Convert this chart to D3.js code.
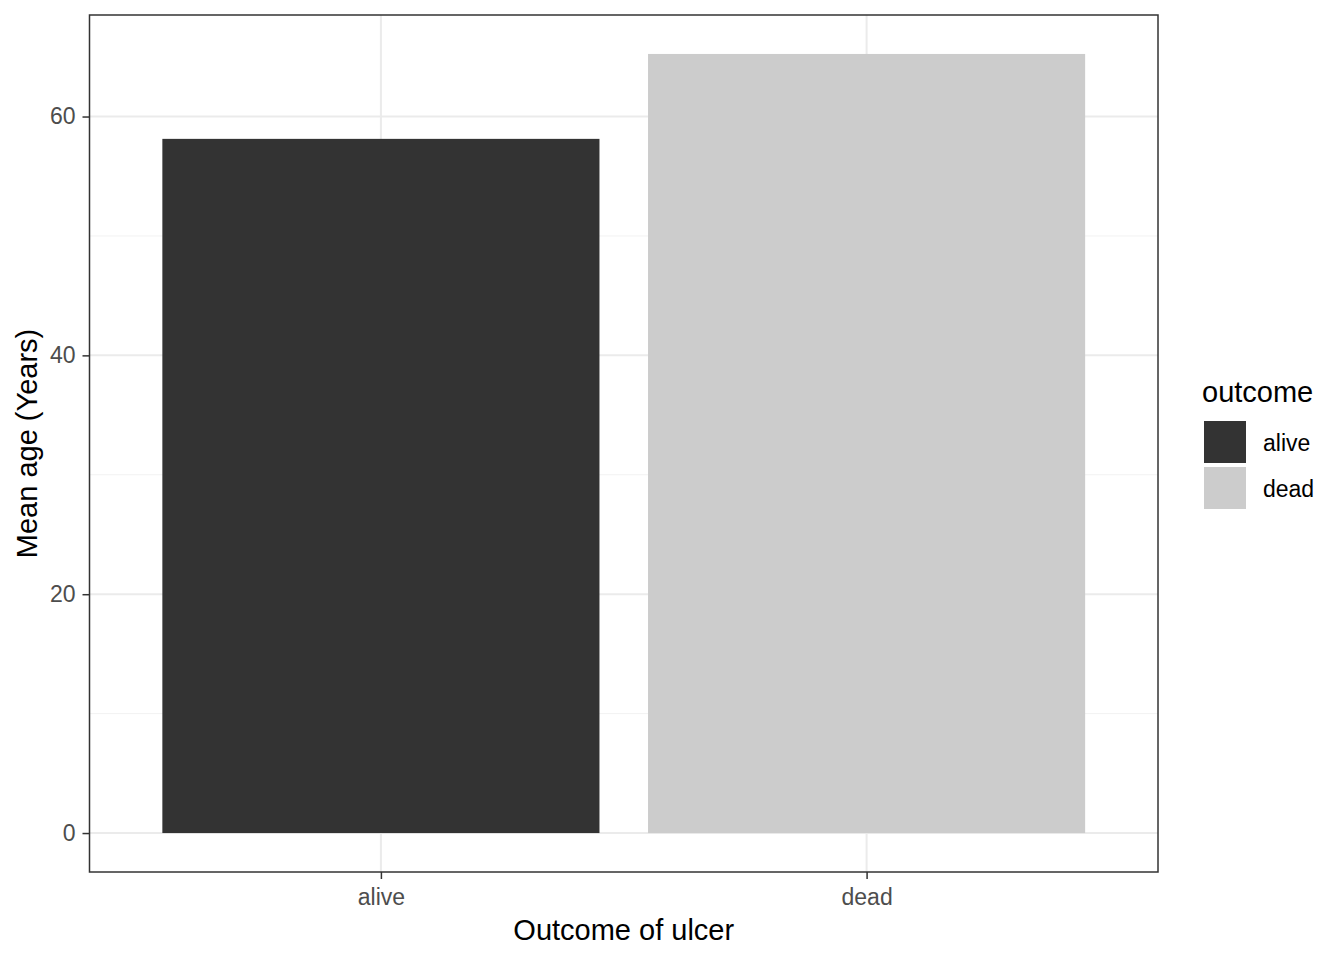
<!DOCTYPE html>
<html>
<head>
<meta charset="utf-8">
<script src="https://cdn.jsdelivr.net/npm/d3@7"></script>
<style>
  body { margin: 0; background: #fff; }
  text { font-family: "Liberation Sans", Arial, sans-serif; }
</style>
</head>
<body>
<div id="chart"></div>
<script>
// data
const outcomes = ["alive", "dead"];
const meanAge = [58.13, 65.24];
const fills = ["#333333", "#CCCCCC"];
const yTicks = [0, 20, 40, 60];
const yMinor = [10, 30, 50];

const W = 1344, H = 960;
const panel = {left: 89.5, right: 1158, top: 15, bottom: 872};

const svg = d3.select("#chart").append("svg")
    .attr("width", W).attr("height", H);

// ggplot style continuous x for discrete: 1..n with 0.6 expansion
let x = d3.scaleLinear()
    .domain([0.4, outcomes.length + 0.6])
    .range([panel.left, panel.right]);

let ymax = d3.max(meanAge);
let y = d3.scaleLinear()
    .domain([-0.05 * ymax, ymax * 1.05])
    .range([panel.bottom, panel.top]);

let g = svg.append("g");

// minor grid
g.selectAll(".minor").data(yMinor).enter().append("line")
    .attr("x1", panel.left).attr("x2", panel.right)
    .attr("y1", d => y(d)).attr("y2", d => y(d))
    .attr("stroke", "#F2F2F2").attr("stroke-width", 1);

// major grid
g.selectAll(".major").data(yTicks).enter().append("line")
    .attr("x1", panel.left).attr("x2", panel.right)
    .attr("y1", d => y(d)).attr("y2", d => y(d))
    .attr("stroke", "#EBEBEB").attr("stroke-width", 2);
g.selectAll(".majorx").data(outcomes).enter().append("line")
    .attr("x1", (d, i) => x(i + 1)).attr("x2", (d, i) => x(i + 1))
    .attr("y1", panel.top).attr("y2", panel.bottom)
    .attr("stroke", "#EBEBEB").attr("stroke-width", 2);

// bars
g.selectAll(".bar").data(meanAge).enter().append("rect")
    .attr("x", (d, i) => x(i + 1 - 0.45))
    .attr("width", x(1.45) - x(0.55))
    .attr("y", d => y(d))
    .attr("height", d => y(0) - y(d))
    .attr("fill", (d, i) => fills[i]);

// panel border
svg.append("rect")
    .attr("x", panel.left).attr("y", panel.top)
    .attr("width", panel.right - panel.left)
    .attr("height", panel.bottom - panel.top)
    .attr("fill", "none").attr("stroke", "#333333").attr("stroke-width", 1.5);

// y axis
let yAxis = d3.axisLeft(y).tickValues(yTicks).tickSize(7).tickPadding(7);
let ya = svg.append("g").attr("transform", `translate(${panel.left},0)`).call(yAxis);
ya.select(".domain").remove();
ya.selectAll("line").attr("stroke", "#333333").attr("stroke-width", 1.5);
ya.selectAll("text").attr("fill", "#4D4D4D").style("font-size", "23px")
    .style("font-family", "Liberation Sans, Arial, sans-serif");

// x axis
let xAxis = d3.axisBottom(x).tickValues([1, 2]).tickFormat((d) => outcomes[d - 1]).tickSize(7).tickPadding(10);
let xa = svg.append("g").attr("transform", `translate(0,${panel.bottom})`).call(xAxis);
xa.select(".domain").remove();
xa.selectAll("line").attr("stroke", "#333333").attr("stroke-width", 1.5);
xa.selectAll("text").attr("fill", "#4D4D4D").style("font-size", "23px")
    .style("font-family", "Liberation Sans, Arial, sans-serif");

// axis titles
svg.append("text")
    .attr("x", (panel.left + panel.right) / 2).attr("y", 940)
    .attr("text-anchor", "middle").style("font-size", "29px")
    .text("Outcome of ulcer");
svg.append("text")
    .attr("transform", `translate(37,${(panel.top + panel.bottom) / 2}) rotate(-90)`)
    .attr("text-anchor", "middle").style("font-size", "29px")
    .text("Mean age (Years)");

// legend
let leg = svg.append("g").attr("transform", "translate(1202,0)");
leg.append("text").attr("x", 0).attr("y", 402).style("font-size", "29px").text("outcome");
outcomes.forEach((o, i) => {
    leg.append("rect").attr("x", 2).attr("y", 421 + i * 46)
        .attr("width", 42).attr("height", 42).attr("fill", fills[i]);
    leg.append("text").attr("x", 61).attr("y", 451 + i * 46)
        .style("font-size", "23px").text(o);
});
</script>
</body>
</html>
